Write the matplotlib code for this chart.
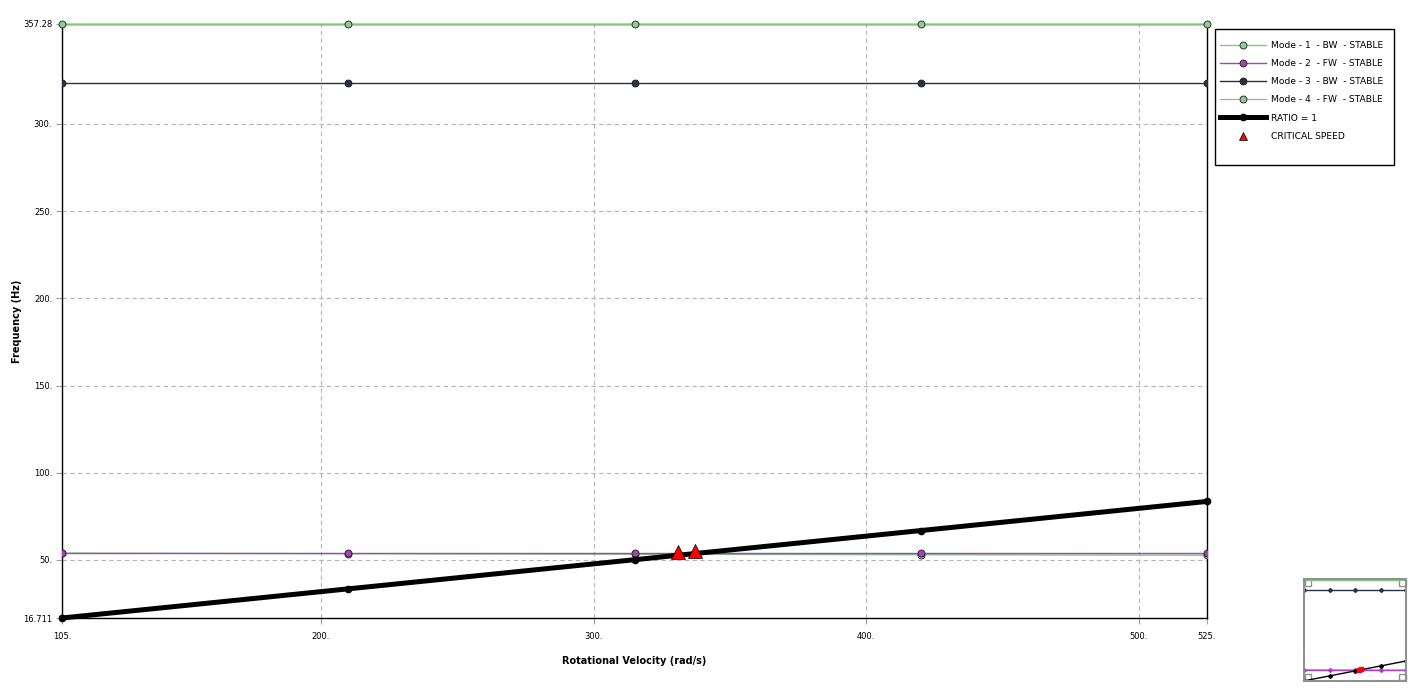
import matplotlib.pyplot as plt
import numpy as np

# rotational velocity (rad/s) and whirl frequencies (Hz)
speeds = [105, 210, 315, 420, 525]
mode1_bw = [53.9, 53.6, 53.3, 53.0, 52.7]
mode2_fw = [54.0, 54.0, 54.0, 54.0, 54.0]
mode3_bw = [323.5, 323.5, 323.5, 323.5, 323.5]
mode4_fw = [357.28, 357.28, 357.28, 357.28, 357.28]
ratio_one = [16.711, 33.423, 50.134, 66.845, 83.556]
crit_speed = [331.1, 337.3]
crit_freq = [54.6, 55.1]

xticks = [105, 200, 300, 400, 500, 525]
xtick_labels = ["105.", "200.", "300.", "400.", "500.", "525."]
yticks = [16.711, 50, 100, 150, 200, 250, 300, 357.28]
ytick_labels = ["16.711", "50.", "100.", "150.", "200.", "250.", "300.", "357.28"]

c_green = "#80c880"
c_green_mk = "#8fcc8f"
c_mag = "#b03cc0"
c_dark = "#2c3044"

W, H = 1413, 690
fig = plt.figure(figsize=(W / 100, H / 100), dpi=100)
ax = fig.add_axes([62 / W, 1 - 618 / H, 1145 / W, 594 / H])


def draw_modes(a, ms=5, lw_ratio=3.6, tri=10):
    a.plot(speeds, mode1_bw, color=c_green, lw=1, marker="o", ms=ms,
           mfc=c_green_mk, mec="#1a1a1a", mew=0.6, label="Mode - 1  - BW  - STABLE", zorder=3)
    a.plot(speeds, mode2_fw, color=c_mag, lw=1, marker="o", ms=ms,
           mfc=c_mag, mec="#1a1a1a", mew=0.6, label="Mode - 2  - FW  - STABLE", zorder=3)
    a.plot(speeds, mode3_bw, color=c_dark, lw=1, marker="o", ms=ms,
           mfc=c_dark, mec="#1a1a1a", mew=0.6, label="Mode - 3  - BW  - STABLE", zorder=3)
    a.plot(speeds, mode4_fw, color=c_green, lw=0.9, marker="o", ms=ms,
           mfc=c_green_mk, mec="#1a1a1a", mew=0.6, label="Mode - 4  - FW  - STABLE",
           zorder=4, clip_on=False)
    a.plot(speeds, ratio_one, color="black", lw=lw_ratio, marker="o", ms=ms * 0.9,
           mfc="black", mec="black", label="RATIO = 1", zorder=5, clip_on=False)
    a.plot(crit_speed, crit_freq, ls="none", marker="^", ms=tri, mfc="red",
           mec="black", mew=0.5, label="CRITICAL SPEED", zorder=6)


draw_modes(ax)

ax.set_xlim(105, 525)
ax.set_ylim(16.711, 357.28)
ax.set_xticks(xticks)
ax.set_xticklabels(xtick_labels)
ax.set_yticks(yticks)
ax.set_yticklabels(ytick_labels)
ax.tick_params(labelsize=6, length=4, color="#a0a0a0", direction="out", pad=3)
ax.tick_params(axis="x", pad=6)
ax.grid(True, ls=(0, (4, 3)), color="#b4b4b4", lw=0.8)
for s in ax.spines.values():
    s.set_color("black")
    s.set_linewidth(1)

ax.set_xlabel("Rotational Velocity (rad/s)", fontsize=7, fontweight="bold", labelpad=11)
ax.set_ylabel("Frequency (Hz)", fontsize=7, fontweight="bold", labelpad=1)

# legend box
fig.patches.append(plt.Rectangle((1215 / W, 1 - 165 / H), 179 / W, 136 / H,
                                 transform=fig.transFigure, fill=False,
                                 ec="black", lw=1))
leg = ax.legend(loc="upper left", bbox_to_anchor=(1220 / W, 1 - 41 / H),
                bbox_transform=fig.transFigure, fontsize=6.6, frameon=False,
                handlelength=5.0, handletextpad=0.55, borderpad=0,
                labelspacing=1.0, borderaxespad=0)
leg.legend_handles[5].set_markersize(6)

# small overview in the lower right corner
ov = fig.add_axes([1304 / W, 1 - 681 / H, 102 / W, 102 / H])
ov.plot(speeds, mode4_fw, color=c_green, lw=1)
ov.plot(speeds, mode3_bw, color=c_dark, lw=1, marker="D", ms=2)
ov.plot(speeds, mode1_bw, color=c_green, lw=1)
ov.plot(speeds, mode2_fw, color=c_mag, lw=1, marker="D", ms=2)
ov.plot(speeds, ratio_one, color="black", lw=1, marker="D", ms=2)
ov.plot(crit_speed, crit_freq, ls="none", marker="s", ms=3, color="red")
ov.set_xlim(103, 525)
ov.set_ylim(16.0, 360.5)
ov.set_xticks([])
ov.set_yticks([])
for s in ov.spines.values():
    s.set_color("#909090")
    s.set_linewidth(1.5)
for cx, cy in [(0, 0.93), (0.93, 0.93), (0, 0), (0.93, 0)]:
    ov.add_patch(plt.Rectangle((cx + 0.005, cy + 0.005), 0.065, 0.065,
                               transform=ov.transAxes, fill=False,
                               ec="#909090", lw=1, clip_on=False))

fig.savefig("out.png", dpi=100)
